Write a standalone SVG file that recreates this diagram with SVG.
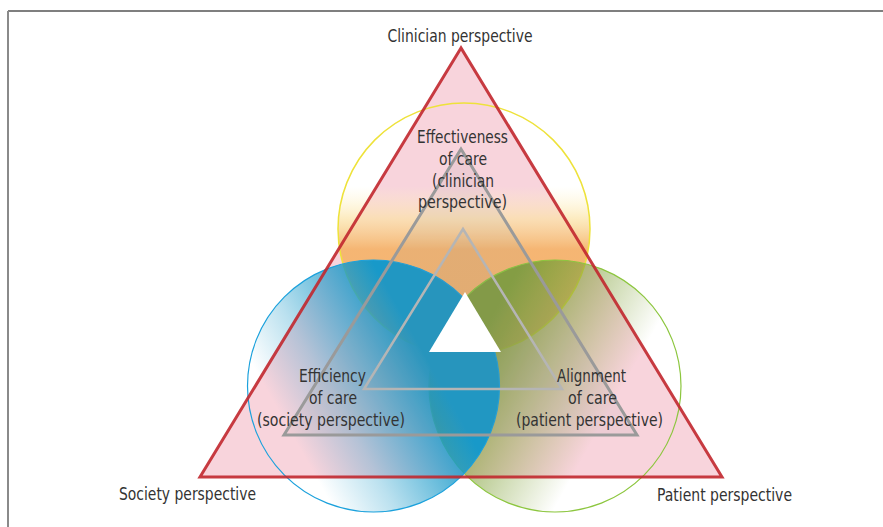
<svg xmlns="http://www.w3.org/2000/svg" width="883" height="527" viewBox="0 0 883 527">
<style>
text{font-family:"Liberation Sans Narrow","DejaVu Sans Condensed","Liberation Sans",sans-serif;font-stretch:condensed;font-size:18px;fill:#333;text-anchor:middle}
.gray1{fill:#808080;fill-opacity:0.09;stroke:#9a9a9a;stroke-width:3;stroke-linejoin:miter}
.gray2{fill:#808080;fill-opacity:0.07;stroke:#b5b5b5;stroke-width:2.5}
</style>
<defs>
<linearGradient id="gY" x1="464" y1="103" x2="464" y2="355" gradientUnits="userSpaceOnUse">
<stop offset="0.33" stop-color="#fff6c8" stop-opacity="0"/>
<stop offset="0.46" stop-color="#fbe2a4" stop-opacity="0.7"/>
<stop offset="0.58" stop-color="#f5b36a" stop-opacity="0.92"/>
<stop offset="1" stop-color="#f5b36a" stop-opacity="0.95"/>
</linearGradient>
<linearGradient id="gB" x1="291" y1="433" x2="426" y2="357" gradientUnits="userSpaceOnUse">
<stop offset="0" stop-color="#1899c9" stop-opacity="0"/>
<stop offset="0.35" stop-color="#1899c9" stop-opacity="0.3"/>
<stop offset="1" stop-color="#1899c9" stop-opacity="1"/>
</linearGradient>
<linearGradient id="gG" x1="607" y1="415" x2="477" y2="342" gradientUnits="userSpaceOnUse">
<stop offset="0" stop-color="#84a43e" stop-opacity="0"/>
<stop offset="0.35" stop-color="#84a43e" stop-opacity="0.35"/>
<stop offset="1" stop-color="#84a03e" stop-opacity="1"/>
</linearGradient>
</defs>
<g id="frame">
<line x1="8" y1="11" x2="883" y2="11" stroke="#555" stroke-width="1.5"/>
<line x1="8" y1="11" x2="8" y2="527" stroke="#8a8a8a" stroke-width="2"/>
</g>
<g id="outer-triangle-fill">
<polygon points="461,48 200,477 722,477" fill="#f8d4dc"/>
</g>
<g id="circle-clinician">
<circle cx="464" cy="229" r="126" fill="url(#gY)" stroke="#eee23a" stroke-width="1.5"/>
</g>
<g id="circle-patient">
<circle cx="555" cy="386" r="126" fill="url(#gG)" stroke="#8cc63e" stroke-width="1.2"/>
</g>
<g id="circle-society">
<circle cx="373.5" cy="386" r="126" fill="url(#gB)" stroke="#1ba1dc" stroke-width="1.2"/>
</g>
<g id="outer-triangle">
<polygon points="461,48 200,477 722,477" fill="none" stroke="#c1272d" stroke-opacity="0.9" stroke-width="3"/>
</g>
<g id="connectors">
<polygon class="gray1" points="461,149 284,435 637,435"/>
<polygon class="gray2" points="463,229 364,389 562,389"/>
</g>
<g id="center-triangle">
<polygon points="465,292 429,352 501,352" fill="#fff"/>
</g>
<g id="label-clinician"><text x="460" y="42" textLength="145" lengthAdjust="spacingAndGlyphs">Clinician perspective</text></g>
<g id="label-society"><text x="187.5" y="500" textLength="137" lengthAdjust="spacingAndGlyphs">Society perspective</text></g>
<g id="label-patient"><text x="724.5" y="501" textLength="135" lengthAdjust="spacingAndGlyphs">Patient perspective</text></g>
<g id="node-effectiveness">
<text x="462.5" y="143" textLength="91" lengthAdjust="spacingAndGlyphs">Effectiveness</text>
<text x="463" y="165" textLength="48" lengthAdjust="spacingAndGlyphs">of care</text>
<text x="463" y="187" textLength="62" lengthAdjust="spacingAndGlyphs">(clinician</text>
<text x="462.5" y="208" textLength="89" lengthAdjust="spacingAndGlyphs">perspective)</text>
</g>
<g id="node-efficiency">
<text x="332.5" y="382" textLength="67" lengthAdjust="spacingAndGlyphs">Efficiency</text>
<text x="333" y="404" textLength="48" lengthAdjust="spacingAndGlyphs">of care</text>
<text x="331" y="426" textLength="148" lengthAdjust="spacingAndGlyphs">(society perspective)</text>
</g>
<g id="node-alignment">
<text x="591.5" y="382" textLength="69" lengthAdjust="spacingAndGlyphs">Alignment</text>
<text x="592.5" y="404" textLength="49" lengthAdjust="spacingAndGlyphs">of care</text>
<text x="589.5" y="426" textLength="147" lengthAdjust="spacingAndGlyphs">(patient perspective)</text>
</g>
</svg>
